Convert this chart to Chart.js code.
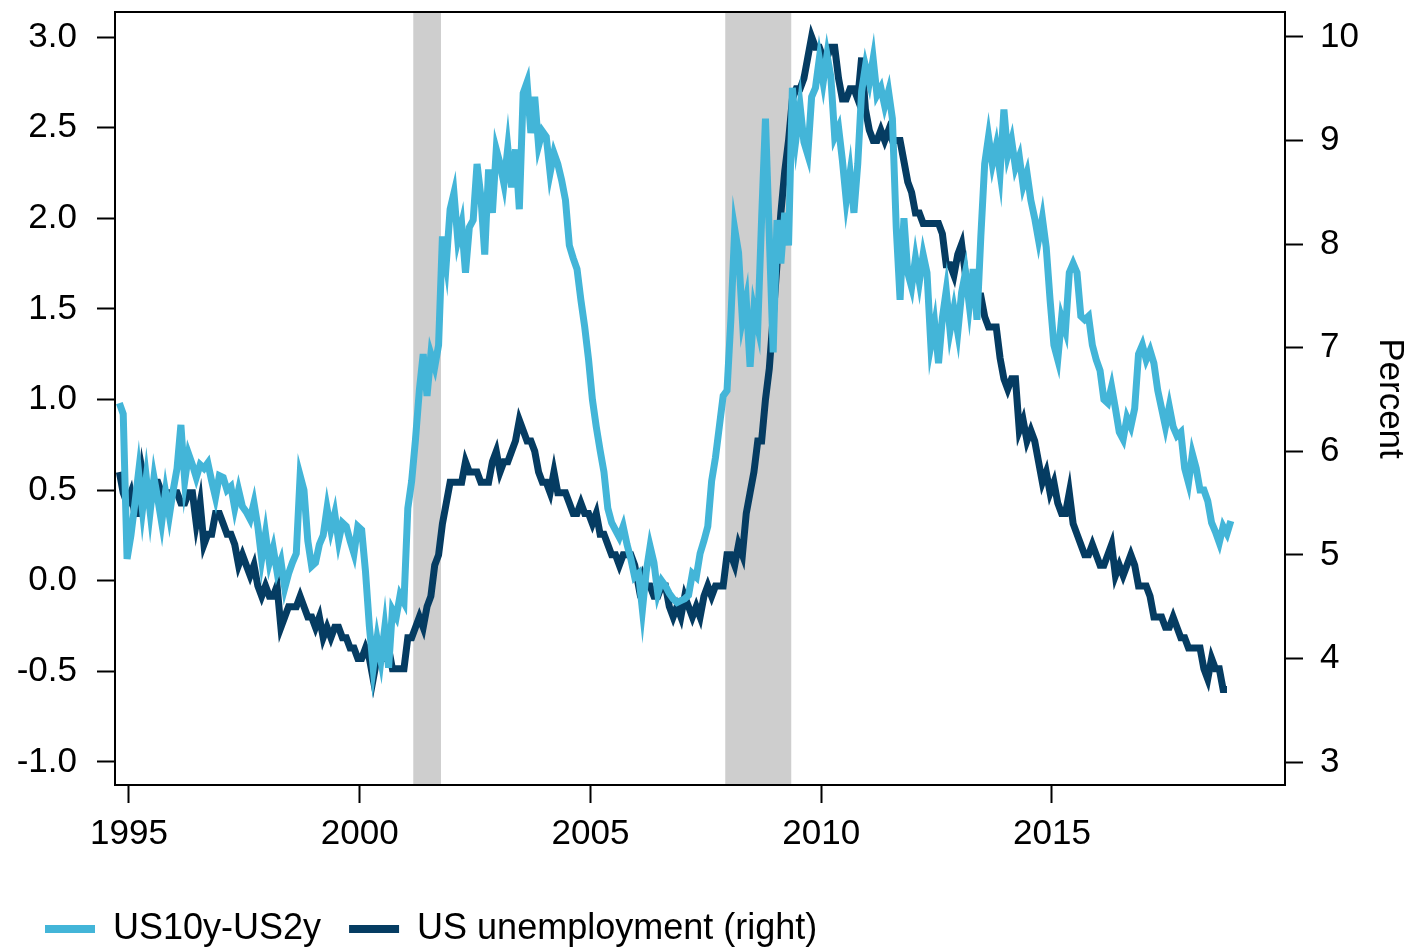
<!DOCTYPE html>
<html>
<head>
<meta charset="utf-8">
<script src="https://cdn.jsdelivr.net/npm/chart.js@4"></script>
<style>
  html, body { margin: 0; padding: 0; overflow: hidden; background: #fff; }
</style>
</head>
<body>
<canvas id="chart" width="1408" height="960"></canvas>
<script>
// monthly series, first value = October 1994
const startYear = 1994;
const startMonth = 9;

const spread = [
  0.98, 0.92, 0.12,
  0.25, 0.42, 0.60, 0.39, 0.57, 0.38, 0.57, 0.45, 0.32, 0.49, 0.36, 0.50,
  0.62, 0.86, 0.55, 0.70, 0.64, 0.57, 0.64, 0.62, 0.65, 0.55, 0.46, 0.58,
  0.57, 0.50, 0.52, 0.40, 0.50, 0.41, 0.38, 0.34, 0.43, 0.30, 0.12, 0.26,
  0.10, 0.18, 0.05, 0.11, -0.04, 0.04, 0.10, 0.15, 0.58, 0.50, 0.22, 0.08,
  0.10, 0.20, 0.25, 0.40, 0.28, 0.37, 0.22, 0.32, 0.30, 0.22, 0.15, 0.30,
  0.28, 0.05, -0.25, -0.48, -0.32, -0.44, -0.26, -0.48, -0.16, -0.20, -0.08, -0.12,
  0.40, 0.55, 0.78, 1.05, 1.25, 1.02, 1.25, 1.18, 1.30, 1.90, 1.75, 2.05,
  2.14, 1.88, 1.97, 1.70, 1.95, 1.99, 2.30, 2.12, 1.80, 2.27, 2.03, 2.38,
  2.30, 2.19, 2.39, 2.17, 2.38, 2.05, 2.69, 2.75, 2.47, 2.67, 2.40, 2.48,
  2.45, 2.25, 2.36, 2.30, 2.21, 2.10, 1.85, 1.78, 1.72, 1.55, 1.40, 1.22,
  1.00, 0.85, 0.72, 0.60, 0.40, 0.32, 0.28, 0.24, 0.30, 0.20, 0.12, 0.02,
  0.04, -0.16, 0.05, 0.19, 0.10, -0.07, 0.00, -0.03, -0.07, -0.10, -0.12, -0.11,
  -0.10, -0.08, 0.04, 0.02, 0.15, 0.22, 0.30, 0.55, 0.68, 0.85, 1.02, 1.05,
  1.44, 1.94, 1.81, 1.44, 1.55, 1.18, 1.50, 1.40, 2.00, 2.55, 1.90, 1.26,
  1.99, 1.75, 2.03, 1.85, 2.72, 2.45, 2.62, 2.42, 2.35, 2.67, 2.72, 2.88,
  2.75, 2.90, 2.78, 2.45, 2.50, 2.32, 2.10, 2.25, 2.03, 2.30, 2.70, 2.84,
  2.75, 2.88, 2.68, 2.72, 2.62, 2.70, 2.55, 1.95, 1.55, 2.00, 1.70, 1.62,
  1.78, 1.65, 1.80, 1.70, 1.30, 1.42, 1.20, 1.45, 1.60, 1.38, 1.50, 1.37,
  1.59, 1.70, 1.52, 1.72, 1.44, 1.90, 2.30, 2.45, 2.30, 2.40, 2.25, 2.60,
  2.35, 2.43, 2.28, 2.34, 2.18, 2.25, 2.10, 2.00, 1.88, 2.00, 1.84, 1.55,
  1.30, 1.22, 1.45, 1.38, 1.70, 1.75, 1.70, 1.46, 1.44, 1.46, 1.30, 1.22,
  1.16, 1.00, 0.98, 1.07, 0.95, 0.82, 0.78, 0.90, 0.85, 0.95, 1.25, 1.30,
  1.22, 1.27, 1.20, 1.05, 0.95, 0.85, 0.96, 0.85, 0.80, 0.82, 0.62, 0.54,
  0.70, 0.62, 0.50, 0.50, 0.44, 0.32, 0.27, 0.21, 0.30, 0.26, 0.33
];

const unemployment = [
  5.8, 5.6, 5.5,
  5.6, 5.4, 5.4, 5.8, 5.6, 5.6, 5.7, 5.7, 5.6, 5.5, 5.6, 5.6,
  5.6, 5.5, 5.5, 5.6, 5.6, 5.3, 5.5, 5.1, 5.2, 5.2, 5.4, 5.4,
  5.3, 5.2, 5.2, 5.1, 4.9, 5.0, 4.9, 4.8, 4.9, 4.7, 4.6, 4.7,
  4.6, 4.6, 4.7, 4.3, 4.4, 4.5, 4.5, 4.5, 4.6, 4.5, 4.4, 4.4,
  4.3, 4.4, 4.2, 4.3, 4.2, 4.3, 4.3, 4.2, 4.2, 4.1, 4.1, 4.0,
  4.0, 4.1, 4.0, 3.8, 4.0, 4.0, 4.0, 4.1, 3.9, 3.9, 3.9, 3.9,
  4.2, 4.2, 4.3, 4.4, 4.3, 4.5, 4.6, 4.9, 5.0, 5.3, 5.5, 5.7,
  5.7, 5.7, 5.7, 5.9, 5.8, 5.8, 5.8, 5.7, 5.7, 5.7, 5.9, 6.0,
  5.8, 5.9, 5.9, 6.0, 6.1, 6.3, 6.2, 6.1, 6.1, 6.0, 5.8, 5.7,
  5.7, 5.6, 5.8, 5.6, 5.6, 5.6, 5.5, 5.4, 5.4, 5.5, 5.4, 5.4,
  5.3, 5.4, 5.2, 5.2, 5.1, 5.0, 5.0, 4.9, 5.0, 5.0, 5.0, 4.9,
  4.7, 4.8, 4.7, 4.7, 4.6, 4.6, 4.7, 4.7, 4.5, 4.4, 4.5, 4.4,
  4.6, 4.5, 4.4, 4.5, 4.4, 4.6, 4.7, 4.6, 4.7, 4.7, 4.7, 5.0,
  5.0, 4.9, 5.1, 5.0, 5.4, 5.6, 5.8, 6.1, 6.1, 6.5, 6.8, 7.3,
  7.8, 8.3, 8.7, 9.0, 9.4, 9.5, 9.5, 9.6, 9.8, 10.0, 9.9, 9.9,
  9.8, 9.8, 9.9, 9.9, 9.6, 9.4, 9.4, 9.5, 9.5, 9.4, 9.8, 9.3,
  9.1, 9.0, 9.0, 9.1, 9.0, 9.1, 9.0, 9.0, 9.0, 8.8, 8.6, 8.5,
  8.3, 8.3, 8.2, 8.2, 8.2, 8.2, 8.2, 8.1, 7.8, 7.8, 7.7, 7.9,
  8.0, 7.7, 7.5, 7.6, 7.5, 7.5, 7.3, 7.2, 7.2, 7.2, 6.9, 6.7,
  6.6, 6.7, 6.7, 6.2, 6.3, 6.1, 6.2, 6.1, 5.9, 5.7, 5.8, 5.6,
  5.7, 5.5, 5.4, 5.4, 5.6, 5.3, 5.2, 5.1, 5.0, 5.0, 5.1, 5.0,
  4.9, 4.9, 5.0, 5.1, 4.8, 4.9, 4.8, 4.9, 5.0, 4.9, 4.7, 4.7,
  4.7, 4.6, 4.4, 4.4, 4.4, 4.3, 4.3, 4.4, 4.3, 4.2, 4.2, 4.1,
  4.1, 4.1, 4.1, 3.9, 3.8, 4.0, 3.9, 3.9, 3.7, 3.7
];

const seriesNames = ["US10y-US2y", "US unemployment (right)"];
const seriesColors = ["#43b5d8", "#053c62"];
const xTicks = [1995, 2000, 2005, 2010, 2015];
const leftTicks = [-1, -0.5, 0, 0.5, 1, 1.5, 2, 2.5, 3];
const rightTicks = [3, 4, 5, 6, 7, 8, 9, 10];
const recessionStart = [2001.16, 2007.92];
const recessionEnd = [2001.76, 2009.35];

const monthPos = i => startYear + (startMonth + i + 0.5) / 12;
const toPoints = arr => arr.map((v, i) => ({ x: monthPos(i), y: v }));

Chart.defaults.font.family = "'Liberation Sans', Arial, sans-serif";
Chart.defaults.font.size = 35;
Chart.defaults.color = "#000";

const recessionBands = {
  id: "recessionBands",
  beforeDatasetsDraw(chart) {
    const { ctx, chartArea, scales } = chart;
    ctx.save();
    ctx.fillStyle = "#cecece";
    recessionStart.forEach((s, i) => {
      const x0 = scales.x.getPixelForValue(s);
      const x1 = scales.x.getPixelForValue(recessionEnd[i]);
      ctx.fillRect(x0, chartArea.top, x1 - x0, chartArea.bottom - chartArea.top);
    });
    ctx.restore();
  }
};

const plotFrame = {
  id: "plotFrame",
  afterDatasetsDraw(chart) {
    const { ctx, chartArea } = chart;
    ctx.save();
    ctx.strokeStyle = "#000";
    ctx.lineWidth = 2;
    ctx.strokeRect(chartArea.left, chartArea.top,
      chartArea.right - chartArea.left, chartArea.bottom - chartArea.top);
    ctx.restore();
  }
};

const tickGrid = {
  drawOnChartArea: false,
  tickLength: 18,
  tickWidth: 2,
  tickColor: "#000",
  color: "#000"
};

// vertical axes: fixed width, no extra room for half tick labels
const fitY = w => s => {
  s.width = w;
  s.paddingTop = 0;
  s.paddingBottom = 0;
};

const config = {
  type: "line",
  data: {
    datasets: [
      {
        label: seriesNames[0],
        data: toPoints(spread),
        borderColor: seriesColors[0],
        backgroundColor: seriesColors[0],
        borderWidth: 7,
        pointRadius: 0,
        yAxisID: "yL"
      },
      {
        label: seriesNames[1],
        data: toPoints(unemployment),
        borderColor: seriesColors[1],
        backgroundColor: seriesColors[1],
        borderWidth: 7,
        pointRadius: 0,
        yAxisID: "yR"
      }
    ]
  },
  options: {
    responsive: false,
    animation: false,
    devicePixelRatio: 1,
    layout: { padding: { left: 17, right: 0, top: 12, bottom: 3 } },
    plugins: {
      tooltip: { enabled: false },
      legend: {
        position: "bottom",
        align: "start",
        labels: {
          boxWidth: 50,
          boxHeight: 8,
          padding: 28,
          font: { size: 36 },
          generateLabels: chart =>
            Chart.defaults.plugins.legend.labels.generateLabels(chart)
              .map(item => ({ ...item, lineWidth: 0 }))
        }
      }
    },
    scales: {
      x: {
        type: "linear",
        position: "bottom",
        min: 1994.697,
        max: 2020.049,
        afterBuildTicks: s => { s.ticks = xTicks.map(v => ({ value: v })); },
        afterFit: s => { s.height = 98; s.paddingLeft = 0; s.paddingRight = 0; },
        ticks: { callback: v => String(v), padding: 10, maxRotation: 0, autoSkip: false },
        grid: tickGrid,
        border: { display: false }
      },
      yL: {
        type: "linear",
        position: "left",
        min: -1.127,
        max: 3.138,
        afterBuildTicks: s => { s.ticks = leftTicks.map(v => ({ value: v })); },
        afterFit: fitY(98),
        ticks: { callback: v => v.toFixed(1), padding: 20 },
        grid: tickGrid,
        border: { display: false }
      },
      yR: {
        type: "linear",
        position: "right",
        min: 2.778,
        max: 10.241,
        afterBuildTicks: s => { s.ticks = rightTicks.map(v => ({ value: v })); },
        afterFit: fitY(123),
        ticks: { callback: v => String(v), padding: 17 },
        grid: tickGrid,
        border: { display: false },
        title: {
          display: true,
          text: "Percent",
          font: { size: 35, lineHeight: 1 },
          padding: { top: 0.5, bottom: 0 }
        }
      }
    }
  },
  plugins: [recessionBands, plotFrame]
};

new Chart(document.getElementById("chart"), config);
</script>
</body>
</html>
